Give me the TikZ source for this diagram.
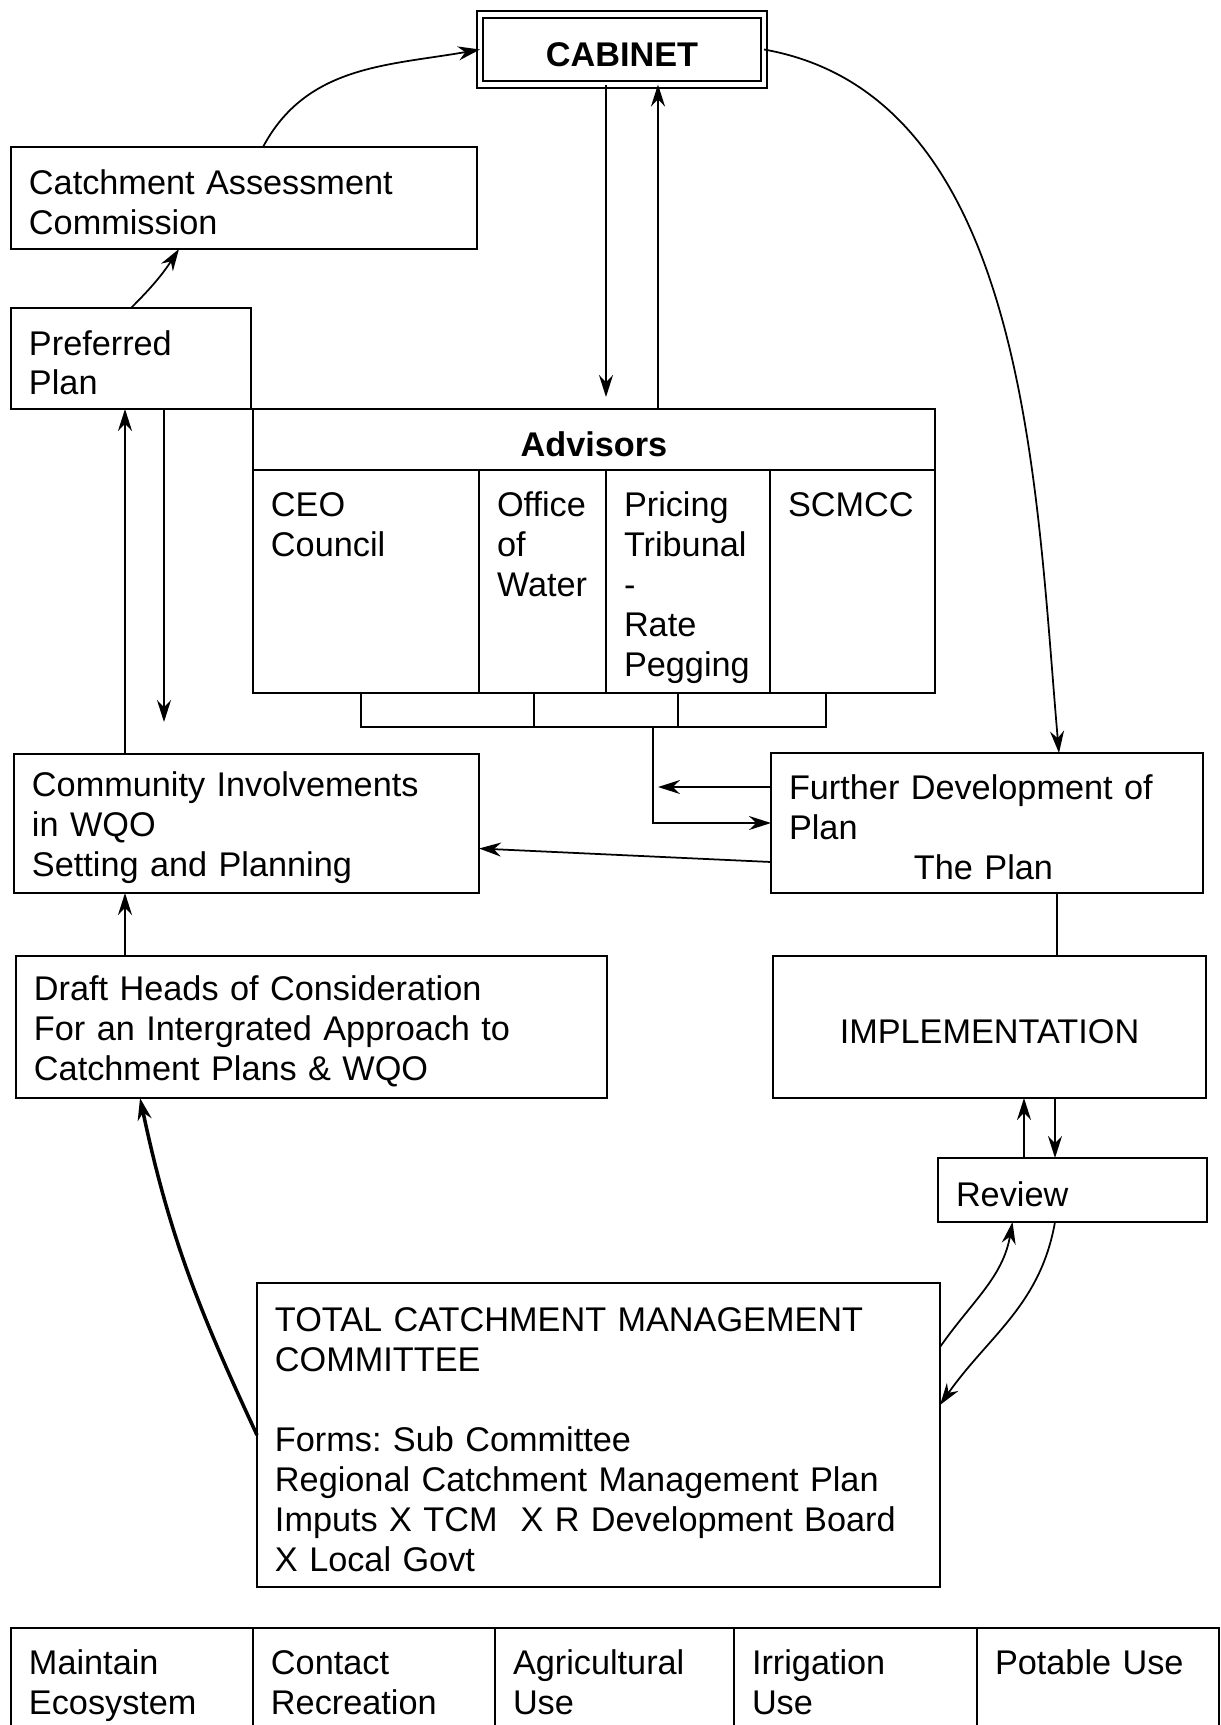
\documentclass[tikz,border=0pt]{standalone}
\usepackage{fontspec}
\setmainfont{Liberation Sans}
\usepackage{tikz}
\usetikzlibrary{arrows.meta, positioning}

\begin{document}
\begin{tikzpicture}[x=0.02cm, y=0.02cm,
  every node/.style={font=\fontsize{19.5}{22.7}\selectfont\frenchspacing},
  >={Stealth[length=4.4mm, width=2.8mm]},
  box/.style 2 args={draw, line width=1.2pt, anchor=north west, outer sep=0pt, inner xsep=0.36cm, inner ysep=0pt,
    minimum width=#1*0.02cm, minimum height=#2*0.02cm, text width=#1*0.02cm-0.72cm, text height=19pt, align=left},
  topbox/.style={text height=26.5pt, text depth=#1},
  link/.style={line width=1pt}]
  \useasboundingbox (0,0) rectangle (1221,-1725);

  % boxes
  \node[box={284}{70}, double, double distance=0.09cm, line width=1pt, align=center] (cabinet) at (480,-14.5) {\textbf{CABINET}};
  \node[box={466}{102}] (cac) at (11,-147) {Catchment Assessment\\Commission};
  \node[box={240}{101}] (pref) at (11,-308) {Preferred\\Plan};
  \node[box={682}{61}, align=center] (adv) at (253,-409) {\textbf{Advisors}};
  \node[box={226}{223}, topbox=100pt] (ceo) at (adv.south west) {CEO\\Council};
  \node[box={127}{223}, topbox=100pt] (water) at (ceo.north east) {Office\\of\\Water};
  \node[box={164}{223}, topbox=100pt] (pricing) at (water.north east) {Pricing\\Tribunal\\-\\Rate\\Pegging};
  \node[box={165}{223}, topbox=100pt] (scmcc) at (pricing.north east) {SCMCC};
  \node[box={432}{140}] (further) at (771,-753) {Further Development of\\Plan\\\hspace*{2.5cm}The Plan};
  \node[box={465}{139}] (comm) at (14,-754) {Community Involvements\\in WQO\\Setting and Planning};
  \node[box={591}{142}] (draft) at (16,-956) {Draft Heads of Consideration\\For an Intergrated Approach to\\Catchment Plans \& WQO};
  \node[box={433}{142}, align=center] (impl) at (773,-956) {IMPLEMENTATION};
  \node[box={269}{64}] (review) at (938,-1158) {Review};
  \node[box={683}{304}] (tcm) at (257,-1283) {TOTAL CATCHMENT MANAGEMENT\\COMMITTEE\\[22.7pt]Forms: Sub Committee\\Regional Catchment Management Plan\\Imputs X TCM\ \ X R Development Board\\X Local Govt};

  % uses along the bottom
  \node[box={242}{112}, topbox=37pt] (eco) at (11,-1628) {Maintain\\Ecosystem};
  \node[box={242}{112}, topbox=37pt] (contact) at (eco.north east) {Contact\\Recreation};
  \node[box={239}{112}, topbox=37pt] (agri) at (contact.north east) {Agricultural\\Use};
  \node[box={243}{112}, topbox=37pt] (irrig) at (agri.north east) {Irrigation\\Use};
  \node[box={242}{112}, topbox=37pt] (potable) at (irrig.north east) {Potable Use};

  % advisors bracket
  \coordinate (bar) at (653,-727);
  \coordinate (b1) at ([xshift=-0.1cm]ceo.south);
  \coordinate (b2) at ([xshift=-0.17cm]water.south);
  \coordinate (b3) at ([xshift=-0.2cm]pricing.south);
  \coordinate (b4) at ([xshift=-0.53cm]scmcc.south);
  \draw[link] (b1) |- (b4 |- bar) -- (b4);
  \foreach \b in {b2,b3} \draw[link] (\b) -- (\b |- bar);
  \draw[link, ->] (bar) |- (further.west);
  \coordinate (fdtip) at (658,-787);
  \draw[link, ->] (further.west |- fdtip) -- (fdtip);

  % connectors
  \draw[link, ->] ([xshift=0.38cm]cac.north) to[out=62, in=190] (cabinet.west);
  \draw[link, ->] (pref.north) to[bend right=6] ([xshift=-1.3cm]cac.south);
  \coordinate (cabdn) at ([xshift=-0.32cm]cabinet.south);
  \coordinate (cabup) at ([xshift=0.72cm]cabinet.south);
  \draw[link, ->, shorten >=0.24cm] (cabdn) -- (cabdn |- adv.north);
  \draw[link, ->] (cabup |- adv.north) -- (cabup);
  \draw[link, ->] (cabinet.east) to[out=-10, in=95, looseness=0.9] ([xshift=1.44cm]further.north);
  \coordinate (pup) at ([xshift=-0.12cm]pref.south);
  \coordinate (pdn) at ([xshift=0.66cm]pref.south);
  \draw[link, ->] (pup |- comm.north) -- (pup);
  \draw[link, ->, shorten >=0.64cm] (pdn) -- (pdn |- comm.north);
  \draw[link, ->] ([yshift=-0.78cm]further.west) -- ([yshift=-0.5cm]comm.east);
  \coordinate (fimp) at ([xshift=1.4cm]further.south);
  \draw[link] (fimp) -- (fimp |- impl.north);
  \draw[link, ->] (pup |- draft.north) -- (pup |- comm.south);
  \coordinate (rup) at ([xshift=-0.97cm]review.north);
  \coordinate (rdn) at ([xshift=-0.35cm]review.north);
  \draw[link, ->] (rup) -- (rup |- impl.south);
  \draw[link, ->] (rdn |- impl.south) -- (rdn);
  \draw[link, ->] ([yshift=1.76cm]tcm.east) to[out=55, in=260] ([xshift=-1.2cm]review.south);
  \draw[link, ->] ([xshift=-0.35cm]review.south) to[out=-100, in=55] ([yshift=0.6cm]tcm.east);
  \draw[line width=2pt, ->] (tcm.west) to[out=115, in=-78] ([xshift=-3.43cm]draft.south);
\end{tikzpicture}
\end{document}
